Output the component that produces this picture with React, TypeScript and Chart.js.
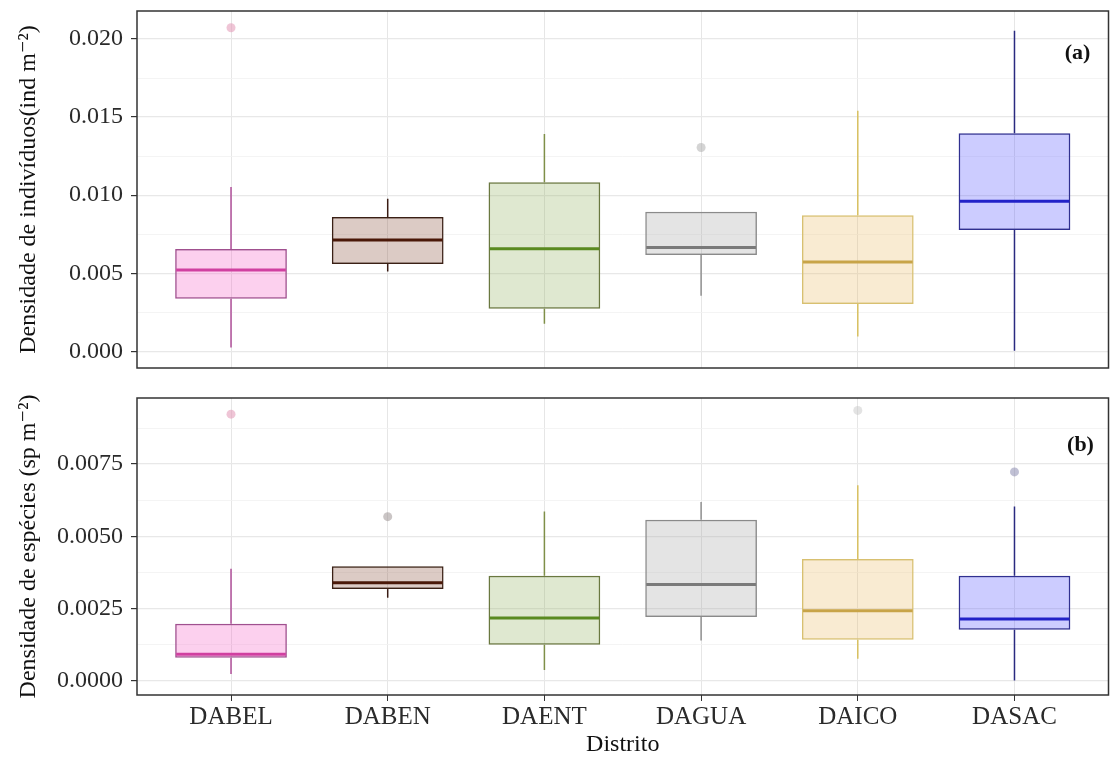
import React, { useEffect, useRef } from 'react';
import { Chart, registerables } from 'chart.js';

Chart.register(...registerables);
Chart.defaults.font.family = "'Liberation Serif', 'DejaVu Serif', serif";

const CATEGORIES = ['DABEL', 'DABEN', 'DAENT', 'DAGUA', 'DAICO', 'DASAC'];

// Panel (a): individual density
const A_MIN = [0.00026, 0.00512, 0.00177, 0.00356, 0.00096, 0.00004];
const A_Q1 = [0.00337, 0.00559, 0.00273, 0.00618, 0.00303, 0.00778];
const A_MED = [0.00521, 0.00714, 0.00657, 0.00665, 0.00572, 0.00962];
const A_Q3 = [0.00655, 0.0086, 0.01083, 0.00894, 0.00872, 0.01397];
const A_MAX = [0.01053, 0.00977, 0.01392, 0.00894, 0.01541, 0.02053];
const A_OUT_CAT = ['DABEL', 'DAGUA'];
const A_OUT_VAL = [0.02072, 0.01305];
const A_MAJOR = [0, 0.005, 0.01, 0.015, 0.02];
const A_MINOR = [0.0025, 0.0075, 0.0125, 0.0175];

// Panel (b): species density
const B_MIN = [0.00023, 0.00287, 0.00037, 0.00139, 0.00076, 0.0];
const B_Q1 = [0.00079, 0.00317, 0.00124, 0.0022, 0.00141, 0.00176];
const B_MED = [0.00091, 0.00339, 0.00217, 0.00333, 0.00242, 0.00213];
const B_Q3 = [0.00197, 0.00396, 0.00363, 0.00557, 0.00421, 0.00363];
const B_MAX = [0.00387, 0.00396, 0.00586, 0.00619, 0.00677, 0.00603];
const B_OUT_CAT = ['DABEL', 'DABEN', 'DAICO', 'DASAC'];
const B_OUT_VAL = [0.00923, 0.00568, 0.00936, 0.00723];
const B_MAJOR = [0, 0.0025, 0.005, 0.0075];
const B_MINOR = [0.00125, 0.00375, 0.00625, 0.00875];

// Colours per district
const FILL = [
  'rgba(245,98,198,0.3)',
  'rgba(138,82,62,0.3)',
  'rgba(148,178,98,0.3)',
  'rgba(165,165,165,0.3)',
  'rgba(235,188,105,0.3)',
  'rgba(85,85,255,0.3)',
];
const BORDER = ['#a0508f', '#3a2015', '#6a7840', '#8a8a8a', '#d8c070', '#303090'];
const WHISKER = ['#b0509a', '#3a1c14', '#7f8f48', '#909090', '#d8c060', '#2a2a80'];
const MEDIAN = ['#d040a0', '#4a1808', '#5a8a20', '#7a7a7a', '#c8a448', '#2222c8'];
const OUT_COLOR: Record<string, string> = {
  DABEL: 'rgba(225,150,180,0.55)',
  DABEN: 'rgba(150,140,140,0.5)',
  DAENT: 'rgba(150,170,120,0.5)',
  DAGUA: 'rgba(170,170,170,0.5)',
  DAICO: 'rgba(200,200,200,0.5)',
  DASAC: 'rgba(130,130,170,0.5)',
};

const boxExtras = {
  id: 'boxExtras',
  beforeDatasetsDraw(chart: any, _args: any, opts: any) {
    const ctx = chart.ctx;
    const y = chart.scales.y;
    const meta = chart.getDatasetMeta(0);
    ctx.save();
    meta.data.forEach((el: any, i: number) => {
      const { x } = el.getProps(['x'], true);
      ctx.strokeStyle = opts.whisker[i];
      ctx.lineWidth = 1.5;
      ctx.beginPath();
      ctx.moveTo(x, y.getPixelForValue(opts.min[i]));
      ctx.lineTo(x, y.getPixelForValue(opts.q1[i]));
      ctx.moveTo(x, y.getPixelForValue(opts.q3[i]));
      ctx.lineTo(x, y.getPixelForValue(opts.max[i]));
      ctx.stroke();
    });
    ctx.restore();
  },
  afterDatasetsDraw(chart: any, _args: any, opts: any) {
    const ctx = chart.ctx;
    const y = chart.scales.y;
    const meta = chart.getDatasetMeta(0);
    ctx.save();
    meta.data.forEach((el: any, i: number) => {
      const { x, width } = el.getProps(['x', 'width'], true);
      const py = y.getPixelForValue(opts.med[i]);
      ctx.strokeStyle = opts.median[i];
      ctx.lineWidth = 3;
      ctx.beginPath();
      ctx.moveTo(x - width / 2 + 1, py);
      ctx.lineTo(x + width / 2 - 1, py);
      ctx.stroke();
    });
    ctx.restore();
  },
  afterDraw(chart: any, _args: any, opts: any) {
    const ctx = chart.ctx;
    const a = chart.chartArea;
    ctx.save();
    ctx.strokeStyle = '#333333';
    ctx.lineWidth = 1.5;
    ctx.strokeRect(a.left, a.top, a.right - a.left, a.bottom - a.top);
    ctx.fillStyle = '#111';
    ctx.font = "bold 22px 'Liberation Serif', serif";
    ctx.textAlign = 'center';
    ctx.textBaseline = 'middle';
    ctx.fillText(opts.label, a.right + opts.labelDx, a.top + opts.labelDy);
    ctx.restore();
  },
};

function buildConfig(p: any) {
  const isMajor = (v: number) => p.major.some((m: number) => Math.abs(m - v) < 1e-9);
  return {
    type: 'bar',
    data: {
      datasets: [
        {
          type: 'bar',
          data: CATEGORIES.map((c, i) => ({ x: i + 1, y: [p.q1[i], p.q3[i]] })),
          backgroundColor: FILL,
          borderColor: BORDER,
          borderWidth: 1.5,
          borderSkipped: false,
          barPercentage: 0.713,
          categoryPercentage: 1,
        },
        {
          type: 'scatter',
          data: p.outCat.map((c: string, i: number) => ({ x: CATEGORIES.indexOf(c) + 1, y: p.outVal[i] })),
          backgroundColor: p.outCat.map((c: string) => OUT_COLOR[c]),
          borderWidth: 0,
          pointRadius: 4.5,
        },
      ],
    },
    options: {
      responsive: false,
      maintainAspectRatio: false,
      devicePixelRatio: 1,
      animation: false,
      layout: { padding: { top: p.padTop, right: 3, left: 0, bottom: 0 } },
      plugins: {
        legend: { display: false },
        tooltip: { enabled: false },
        boxExtras: {
          min: p.min, q1: p.q1, med: p.med, q3: p.q3, max: p.max,
          whisker: WHISKER, median: MEDIAN,
          label: p.label, labelDx: p.labelDx, labelDy: p.labelDy,
        },
      },
      scales: {
        x: {
          type: 'linear',
          min: 0.4,
          max: 6.6,
          offset: false,
          afterBuildTicks: (scale: any) => {
            scale.ticks = CATEGORIES.map((c, i) => ({ value: i + 1 }));
          },
          afterFit: (scale: any) => {
            scale.height = p.xHeight;
            scale.paddingLeft = 0;
            scale.paddingRight = 0;
          },
          border: { display: false },
          grid: {
            offset: false,
            color: '#e6e6e6',
            lineWidth: 1,
            drawTicks: p.showX,
            tickLength: 6,
            tickColor: '#333333',
          },
          ticks: {
            display: p.showX,
            autoSkip: false,
            maxRotation: 0,
            padding: 1,
            color: '#2a2a2a',
            font: { size: 25 },
            callback: (v: number) => CATEGORIES[Math.round(v) - 1],
          },
          title: {
            display: p.showX,
            text: 'Distrito',
            color: '#111',
            font: { size: 24 },
            padding: { top: 0, bottom: 1 },
          },
        },
        y: {
          type: 'linear',
          min: p.yMin,
          max: p.yMax,
          afterBuildTicks: (scale: any) => {
            scale.ticks = [...p.major, ...p.minor].sort((a: number, b: number) => a - b).map((v: number) => ({ value: v }));
          },
          afterFit: (scale: any) => {
            scale.width = 137;
            scale.paddingTop = 0;
            scale.paddingBottom = 0;
          },
          border: { display: false },
          grid: {
            color: (c: any) => (c.tick && isMajor(c.tick.value) ? '#e8e8e8' : '#f1f1f1'),
            lineWidth: (c: any) => (c.tick && isMajor(c.tick.value) ? 1.2 : 0.8),
            tickColor: (c: any) => (c.tick && isMajor(c.tick.value) ? '#333333' : 'rgba(0,0,0,0)'),
            tickLength: 6,
          },
          ticks: {
            autoSkip: false,
            padding: 8,
            color: '#2a2a2a',
            font: { size: 24 },
            callback: (v: number) => (isMajor(v) ? v.toFixed(p.decimals) : ''),
          },
          title: {
            display: true,
            text: p.yTitle,
            color: '#111',
            font: { size: 24 },
            padding: { top: 14, bottom: 0 },
          },
        },
      },
    },
    plugins: [boxExtras],
  };
}

const PANEL_A = {
  min: A_MIN, q1: A_Q1, med: A_MED, q3: A_Q3, max: A_MAX,
  outCat: A_OUT_CAT, outVal: A_OUT_VAL, major: A_MAJOR, minor: A_MINOR,
  yMin: -0.00106, yMax: 0.02179, decimals: 3,
  yTitle: 'Densidade de indivíduos(ind m⁻²)',
  label: '(a)', labelDx: -31, labelDy: 42,
  padTop: 11, xHeight: 12, showX: false,
};

const PANEL_B = {
  min: B_MIN, q1: B_Q1, med: B_MED, q3: B_Q3, max: B_MAX,
  outCat: B_OUT_CAT, outVal: B_OUT_VAL, major: B_MAJOR, minor: B_MINOR,
  yMin: -0.0005, yMax: 0.00979, decimals: 4,
  yTitle: 'Densidade de espécies (sp m⁻²)',
  label: '(b)', labelDx: -28, labelDy: 47,
  padTop: 18, xHeight: 65, showX: true,
};

export default function App() {
  const topRef = useRef<HTMLCanvasElement>(null);
  const botRef = useRef<HTMLCanvasElement>(null);
  useEffect(() => {
    const c1 = new Chart(topRef.current as HTMLCanvasElement, buildConfig(PANEL_A) as any);
    const c2 = new Chart(botRef.current as HTMLCanvasElement, buildConfig(PANEL_B) as any);
    return () => {
      c1.destroy();
      c2.destroy();
    };
  }, []);
  return (
    <div style={{ position: 'absolute', left: 0, top: 0, width: 1113, height: 760, background: '#ffffff' }}>
      <canvas ref={topRef} width={1113} height={380} style={{ display: 'block' }} />
      <canvas ref={botRef} width={1113} height={380} style={{ display: 'block' }} />
    </div>
  );
}
